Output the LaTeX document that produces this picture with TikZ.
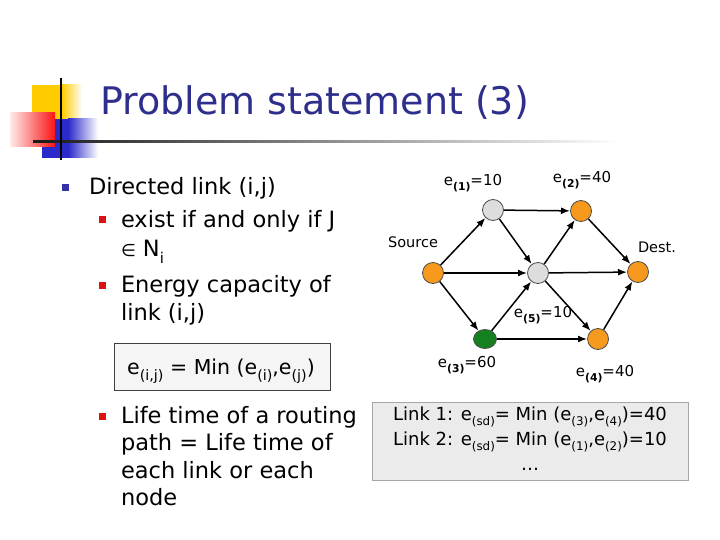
\documentclass[tikz,border=0pt]{standalone}
\usepackage{fontspec}
\usepackage{graphicx}
\setmainfont{DejaVu Sans}
\usetikzlibrary{arrows.meta,shapes.geometric}
\definecolor{titleblue}{RGB}{46,46,140}
\definecolor{logoyellow}{RGB}{255,204,0}
\definecolor{logoblue}{RGB}{43,43,203}
\definecolor{logored}{RGB}{250,20,20}
\definecolor{bulblue}{RGB}{51,51,170}
\definecolor{bulred}{RGB}{221,17,17}
\definecolor{nodeorange}{RGB}{247,153,28}
\definecolor{nodegray}{RGB}{221,221,221}
\definecolor{nodegreen}{RGB}{20,128,30}
\newcommand\lowsub[2][0.66]{\raisebox{-0.32em}{\scalebox{#1}{#2}}}
\begin{document}
\begin{tikzpicture}[x=1pt,y=-1pt,
  every node/.style={inner sep=0pt, outer sep=0pt},
  bodytxt/.style={anchor=base west, font=\fontsize{22.5}{28}\selectfont},
  bullet/.style={rectangle, minimum size=7pt},
  vert/.style={circle, draw=black!70, line width=0.8pt, minimum size=21pt},
  glabel/.style={font=\fontsize{15}{18}\selectfont},
  arr/.style={-{Latex[length=9pt,width=7pt]}, line width=1.5pt, shorten >=0.5pt, shorten <=0.5pt},
  boxtxt/.style={anchor=base, font=\fontsize{18}{22}\selectfont}
]
\useasboundingbox (0,0) rectangle (720,540);
\fill[white] (0,0) rectangle (720,540);
% logo
\fill[logoyellow] (32,85) rectangle (62,119);
\shade[left color=logoyellow, right color=white] (62,85) rectangle (82,119);
\fill[logoblue] (42,119) rectangle (68,158);
\shade[left color=logoblue, right color=white] (68,119) rectangle (98,158);
\shade[left color=red!8, right color=logored] (10,113) rectangle (55,147);
\shade[left color=black!90, right color=white] (33,140.3) rectangle (620,142.3);
\draw[line width=2pt] (61,78) -- (61,160);
% title
\node[anchor=base west, text=titleblue, font=\fontsize{38}{44}\selectfont] (title) at (100,115) {Problem statement (3)};
% bullets and text
\node[bullet, fill=bulblue] (b0) at (65,188) {};
\node[bodytxt] (t0) at (89,195) {Directed link (i,j)};
\node[bullet, fill=bulred] (b1) at (102,220) {};
\node[bodytxt] (t1a) at (121,227) {exist if and only if J};
\node[bodytxt] (t1b) at (121,256) {{\fontsize{17}{20}\selectfont ∈} N\lowsub{i}};
\node[bullet, fill=bulred] (b2) at (102,285) {};
\node[bodytxt] (t2a) at (121,292) {Energy capacity of};
\node[bodytxt] (t2b) at (121,320) {link (i,j)};
\node[draw=black!75, fill=black!4, line width=0.8pt, minimum width=216pt, minimum height=47pt] (formula) at (222,366.5) {};
\node[anchor=base, font=\fontsize{20.5}{24}\selectfont] (ftxt) at (221,374) {e\lowsub[0.7]{(i,j)} = Min (e\lowsub[0.7]{(i)},e\lowsub[0.7]{(j)})};
\node[bullet, fill=bulred] (b3) at (102,416) {};
\node[bodytxt] (t3a) at (121,423) {Life time of a routing};
\node[bodytxt] (t3b) at (121,450) {path = Life time of};
\node[bodytxt] (t3c) at (121,478) {each link or each};
\node[bodytxt] (t3d) at (121,505) {node};
% graph
\node[vert, fill=nodeorange] (S) at (433,273) {};
\node[vert, fill=nodegray] (A1) at (493,210) {};
\node[vert, fill=nodeorange] (A2) at (581,211) {};
\node[vert, fill=nodegray] (C) at (538,273) {};
\node[vert, fill=nodeorange] (D) at (638,272) {};
\node[vert, ellipse, fill=nodegreen, minimum width=23pt, minimum height=19pt] (G) at (485,339) {};
\node[vert, fill=nodeorange] (A4) at (598,339) {};
\draw[arr] (S) -- (A1);
\draw[arr] (S) -- (C);
\draw[arr] (S) -- (G);
\draw[arr] (A1) -- (A2);
\draw[arr] (A1) -- (C);
\draw[arr] (C) -- (A2);
\draw[arr] (C) -- (D);
\draw[arr] (C) -- (A4);
\draw[arr] (G) -- (C);
\draw[arr] (G) -- (A4);
\draw[arr] (A2) -- (D);
\draw[arr] (A4) -- (D);
\node[glabel] (l1) at (473,183) {e\lowsub[0.72]{\bfseries (1)}=10};
\node[glabel] (l2) at (582,180) {e\lowsub[0.72]{\bfseries (2)}=40};
\node[glabel, font=\fontsize{14.5}{18}\selectfont] (lS) at (413,242) {Source};
\node[glabel, font=\fontsize{14.5}{18}\selectfont] (lD) at (657,247) {Dest.};
\node[glabel] (l5) at (543,315) {e\lowsub[0.72]{\bfseries (5)}=10};
\node[glabel] (l3) at (467,365) {e\lowsub[0.72]{\bfseries (3)}=60};
\node[glabel] (l4) at (605,374) {e\lowsub[0.72]{\bfseries (4)}=40};
% summary box
\node[draw=black!35, fill=black!8, line width=1pt, minimum width=316pt, minimum height=78pt] (summary) at (530,441) {};
\node[boxtxt] (s1) at (530,420) {Link 1: e\lowsub{(sd)}= Min (e\lowsub{(3)},e\lowsub{(4)})=40};
\node[boxtxt] (s2) at (530,445) {Link 2: e\lowsub{(sd)}= Min (e\lowsub{(1)},e\lowsub{(2)})=10};
\node[boxtxt] (s3) at (530,470) {…};
\end{tikzpicture}
\end{document}
